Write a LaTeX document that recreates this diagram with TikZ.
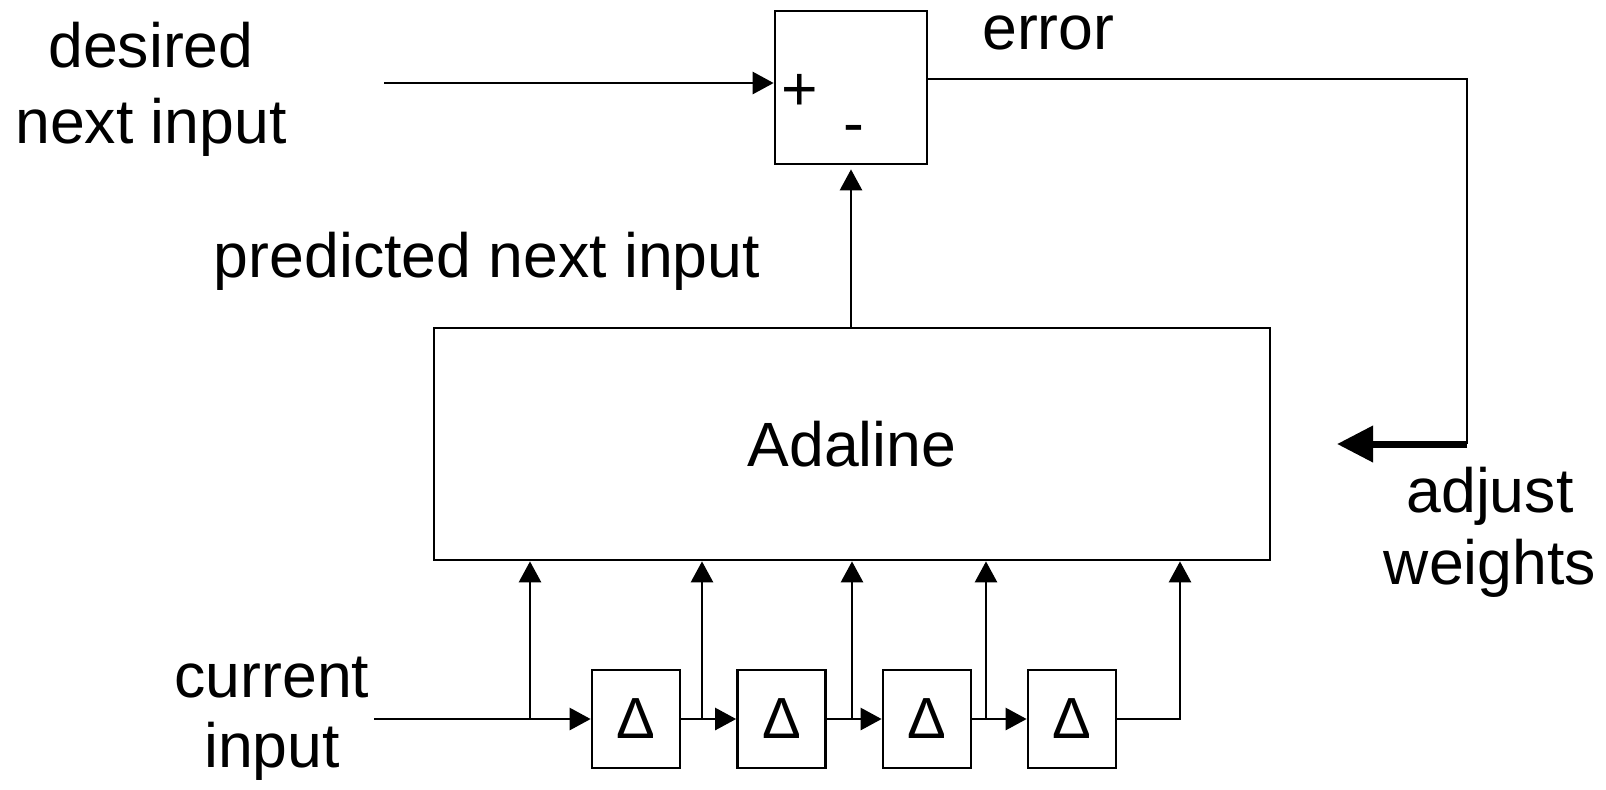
\documentclass[tikz,border=0pt]{standalone}
\usepackage{fontspec}
\setmainfont{Liberation Sans}
\usetikzlibrary{arrows.meta}

\begin{document}
\begin{tikzpicture}[x=0.1mm,y=-0.1mm,line width=0.27mm,
  font=\fontsize{17.8}{21.6}\selectfont,
  >={Triangle[length=2.1mm,width=2.2mm]},
  box/.style={draw,inner sep=0},
  delay/.style={box,minimum width=8.8mm,minimum height=9.8mm,font=\fontsize{16.5}{20}\selectfont},
  lbl/.style={inner sep=0,align=center}]
\useasboundingbox (0,0) rectangle (1606,789);
\node[box,minimum width=15.2mm,minimum height=15.3mm] (sum) at (851,87.5) {};
\node[lbl,anchor=base] (plus) at (800,110) {+};
\node[lbl,anchor=base] (minus) at (854,144) {-};
\node[box,minimum width=83.6mm,minimum height=23.2mm] (ada) at (852,444) {Adaline};
\foreach \n/\xx in {1/636,2/781.5,3/927,4/1072}
  \node[delay] (d\n) at (\xx,719) {Δ};
\node[lbl] (des) at (151,89) {desired\\next input};
\node[lbl,anchor=base west] (err) at (981,49) {error};
\node[lbl,anchor=base] (pred) at (487,277) {predicted next input};
\node[lbl,font=\fontsize{17.8}{20.4}\selectfont] (adj) at (1490,532) {adjust\\weights};
\node[lbl,font=\fontsize{17.8}{19.8}\selectfont] (cur) at (272,719) {current\\input};
\coordinate (din) at (384,83);
\coordinate (ein) at (1467,79);
\coordinate (eout) at (1467,444);
\coordinate (wt) at (1337,444);
\coordinate (cin) at (374,719);
\foreach \n/\xx in {1/530,2/702,3/852,4/986,5/1180}
  \coordinate (t\n) at (\xx,719);
\draw[->] (din) -- (din -| sum.west);
\draw (sum.east |- ein) -- (ein) -- (eout);
\draw[line width=0.7mm,-{Triangle[length=3.6mm,width=3.5mm]}] (eout) -- (wt);
\draw[->,shorten >=0.4mm] (sum.south |- ada.north) -- (sum.south);
\draw[->] (cin) -- (d1.west);
\foreach \a/\b in {1/2,2/3,3/4}
  \draw[->] (d\a.east) -- (d\b.west);
\foreach \n in {1,...,4}
  \draw[->] (t\n) -- (t\n |- ada.south);
\draw[->] (d4.east) -- (t5) -- (t5 |- ada.south);
\end{tikzpicture}
\end{document}
